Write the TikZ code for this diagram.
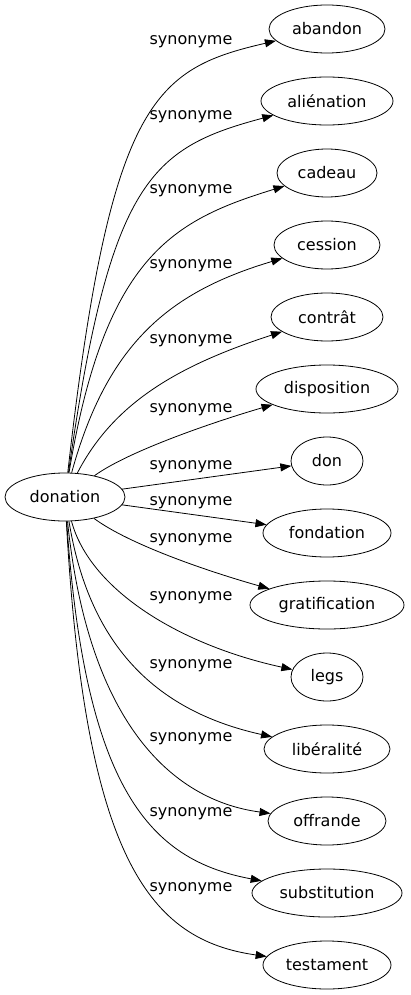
\documentclass[tikz,border=0pt]{standalone}
\usepackage{fontspec}
\setmainfont{DejaVu Sans}
\usetikzlibrary{shapes.geometric,arrows.meta}
\begin{document}
\begin{tikzpicture}[x=1pt,y=-1pt,
  ell/.style={draw,ellipse,line width=0.8pt,inner sep=0pt,minimum height=48pt,font=\fontsize{16}{19}\selectfont},
  lbl/.style={inner sep=0pt,font=\fontsize{16}{19}\selectfont},
  edge/.style={line width=0.8pt,-{Triangle[length=11pt,width=8pt]}}]
\useasboundingbox (0,0) rectangle (410,995);
\node[ell,minimum width=120pt] (donation) at (65,497) {donation};
\node[ell,minimum width=116pt] (abandon) at (327,29) {abandon};
\node[ell,minimum width=132pt] (alienation) at (327,101) {aliénation};
\node[ell,minimum width=100pt] (cadeau) at (327,173) {cadeau};
\node[ell,minimum width=106pt] (cession) at (327,245) {cession};
\node[ell,minimum width=112pt] (contrat) at (327,317) {contrât};
\node[ell,minimum width=142pt] (disposition) at (327,389) {disposition};
\node[ell,minimum width=72pt] (don) at (327,461) {don};
\node[ell,minimum width=128pt] (fondation) at (327,533) {fondation};
\node[ell,minimum width=154pt] (gratification) at (327,605) {gratification};
\node[ell,minimum width=72pt] (legs) at (327,677) {legs};
\node[ell,minimum width=126pt] (liberalite) at (327,749) {libéralité};
\node[ell,minimum width=118pt] (offrande) at (327,821) {offrande};
\node[ell,minimum width=150pt] (substitution) at (327,893) {substitution};
\node[ell,minimum width=128pt] (testament) at (327,965) {testament};
\node[lbl] (l1) at (191,42) {synonyme};
\node[lbl] (l2) at (191,117) {synonyme};
\node[lbl] (l3) at (191,191) {synonyme};
\node[lbl] (l4) at (191,266) {synonyme};
\node[lbl] (l5) at (191,341) {synonyme};
\node[lbl] (l6) at (191,410) {synonyme};
\node[lbl] (l7) at (191,467) {synonyme};
\node[lbl] (l8) at (191,503) {synonyme};
\node[lbl] (l9) at (191,540) {synonyme};
\node[lbl] (l10) at (191,598) {synonyme};
\node[lbl] (l11) at (191,666) {synonyme};
\node[lbl] (l12) at (191,739) {synonyme};
\node[lbl] (l13) at (191,814) {synonyme};
\node[lbl] (l14) at (191,889) {synonyme};
\draw[edge] (donation) .. controls (110,100) and (154,69) .. (abandon);
\draw[edge] (donation) .. controls (110,180) and (151,148) .. (alienation);
\draw[edge] (donation) .. controls (105,255) and (174,220) .. (cadeau);
\draw[edge] (donation) .. controls (108,340) and (173,291) .. (cession);
\draw[edge] (donation) .. controls (115,400) and (183,364) .. (contrat);
\draw[edge] (donation) .. controls (130,450) and (220,420) .. (disposition);
\draw[edge] (donation) -- (don);
\draw[edge] (donation) -- (fondation);
\draw[edge] (donation) .. controls (130,545) and (210,572) .. (gratification);
\draw[edge] (donation) .. controls (90,590) and (180,645) .. (legs);
\draw[edge] (donation) .. controls (90,650) and (160,712) .. (liberalite);
\draw[edge] (donation) .. controls (88,720) and (170,800) .. (offrande);
\draw[edge] (donation) .. controls (85,790) and (150,860) .. (substitution);
\draw[edge] (donation) .. controls (85,860) and (150,940) .. (testament);
\end{tikzpicture}
\end{document}
